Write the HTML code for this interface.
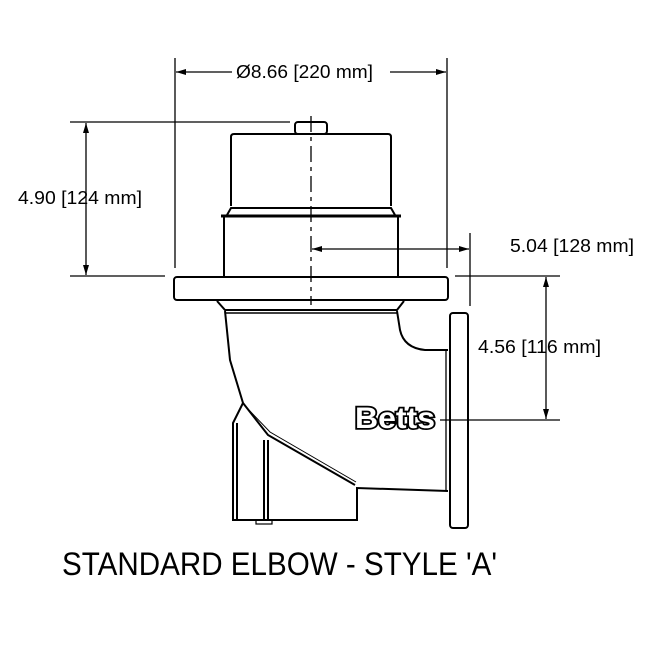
<!DOCTYPE html>
<html><head><style>html,body{margin:0;padding:0;background:#fff}svg{display:block}</style></head>
<body>
<svg width="648" height="648" viewBox="0 0 648 648" xmlns="http://www.w3.org/2000/svg" font-family="Liberation Sans, sans-serif">
<defs>
<marker id="a" viewBox="0 0 10 6" refX="10" refY="3" markerWidth="10" markerHeight="6" orient="auto-start-reverse" markerUnits="userSpaceOnUse"><path d="M0,0 L10,3 L0,6z" fill="#000"/></marker>
</defs>
<g stroke="#000" fill="none" stroke-width="1.3">
<line x1="175" y1="58" x2="175" y2="268"/>
<line x1="447" y1="58" x2="447" y2="268"/>
<line x1="70" y1="122" x2="290" y2="122"/>
<line x1="70" y1="276" x2="165" y2="276"/>
<line x1="470" y1="233" x2="470" y2="306"/>
<line x1="455" y1="276" x2="560" y2="276"/>
<line x1="440" y1="420" x2="560" y2="420"/>
<line x1="176" y1="72" x2="232" y2="72" marker-start="url(#a)"/>
<line x1="390" y1="72" x2="446" y2="72" marker-end="url(#a)"/>
<line x1="86" y1="123" x2="86" y2="275" marker-start="url(#a)" marker-end="url(#a)"/>
<line x1="312" y1="249" x2="469" y2="249" marker-start="url(#a)" marker-end="url(#a)"/>
<line x1="546" y1="277" x2="546" y2="419" marker-start="url(#a)" marker-end="url(#a)"/>
<line x1="311" y1="116" x2="311" y2="305" stroke-dasharray="16,5,4,5"/>
</g>
<g stroke="#000" fill="none" stroke-width="2">
<rect x="295" y="122" width="32" height="12" rx="3"/>
<path d="M231,206 V137 Q231,134 234,134 H388 Q391,134 391,137 V206"/>
<path d="M227,215 L231,208 H391 L395,215"/>
<line x1="221" y1="216" x2="401" y2="216" stroke-width="3"/>
<path d="M224,217 V276 M398,217 V276"/>
<rect x="174" y="277" width="274" height="23" rx="3"/>
<path d="M217,301 L225,310 H397 L404,301"/>
<line x1="225" y1="313" x2="397" y2="313" stroke-width="1.5"/>
<path d="M225,311 L230,360 L243,403 L233,423 V520 H357 V488 L448,491"/>
<path d="M237,423 V520 M264,440 V520 M268,440 V520"/>
<path d="M243,403 L268,435 L355,485"/>
<path d="M247,408 L270,432 L356,482" stroke-width="1"/>
<path d="M397,311 L400,330 Q404,348 425,350 H448"/>
<rect x="450" y="313" width="18" height="215" rx="3"/>
<line x1="446" y1="350" x2="446" y2="491" stroke-width="1.3"/>
<rect x="256" y="520" width="16" height="4" stroke-width="1.2"/>
</g>
<text x="395" y="428" font-size="30" font-weight="bold" text-anchor="middle" fill="#fff" stroke="#000" stroke-width="3.5" paint-order="stroke" textLength="80" lengthAdjust="spacingAndGlyphs">Betts</text>
<g font-size="18" fill="#000" lengthAdjust="spacingAndGlyphs">
<text x="236" y="78" textLength="137" lengthAdjust="spacingAndGlyphs">Ø8.66 [220 mm]</text>
<text x="18" y="204" textLength="124" lengthAdjust="spacingAndGlyphs">4.90 [124 mm]</text>
<text x="510" y="252" textLength="124" lengthAdjust="spacingAndGlyphs">5.04 [128 mm]</text>
<text x="478" y="353" textLength="123" lengthAdjust="spacingAndGlyphs">4.56 [116 mm]</text>
</g>
<text x="62" y="575" font-size="32" fill="#000" textLength="435" lengthAdjust="spacingAndGlyphs">STANDARD ELBOW - STYLE 'A'</text>
</svg>
</body></html>
